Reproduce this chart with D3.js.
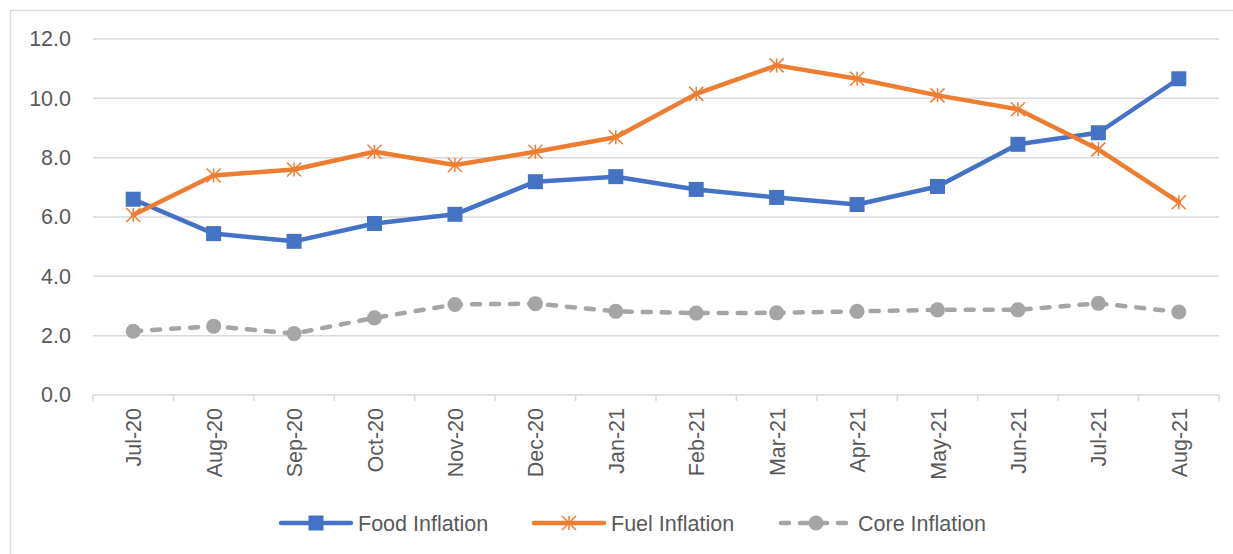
<!DOCTYPE html>
<html>
<head>
<meta charset="utf-8">
<script src="https://cdn.jsdelivr.net/npm/d3@7"></script>
<style>
  body { margin: 0; background: #fff; }
  text { font-family: "Liberation Sans", Arial, sans-serif; fill: #595959; }
</style>
</head>
<body>
<div class="main"></div>
<script>
// chart data
const months = ["Jul-20", "Aug-20", "Sep-20", "Oct-20", "Nov-20", "Dec-20", "Jan-21",
                "Feb-21", "Mar-21", "Apr-21", "May-21", "Jun-21", "Jul-21", "Aug-21"];
const foodInflation = [6.6, 5.44, 5.18, 5.78, 6.09, 7.19, 7.36, 6.93, 6.66, 6.42, 7.03, 8.45, 8.84, 10.66];
const fuelInflation = [6.07, 7.4, 7.6, 8.2, 7.75, 8.2, 8.69, 10.15, 11.11, 10.66, 10.1, 9.63, 8.28, 6.5];
const coreInflation = [2.15, 2.32, 2.07, 2.6, 3.05, 3.08, 2.82, 2.76, 2.77, 2.82, 2.87, 2.87, 3.09, 2.8];
const yTicks = [0, 2, 4, 6, 8, 10, 12];

const series = [
  { name: "Food Inflation", values: foodInflation, color: "#4472C4", marker: "square" },
  { name: "Fuel Inflation", values: fuelInflation, color: "#ED7D31", marker: "star" },
  { name: "Core Inflation", values: coreInflation, color: "#A5A5A5", marker: "circle", dashed: true }
];

// layout
const W = 1233, H = 554;
const plot = { left: 93, right: 1219, top: 39, bottom: 395 };
const fontSize = 21.5;

const svg = d3.select(".main").append("svg")
    .attr("width", W)
    .attr("height", H);

// outer chart border
svg.append("rect")
    .attr("x", 10.5).attr("y", 10.5)
    .attr("width", 1260).attr("height", 600)
    .attr("fill", "none")
    .attr("stroke", "#D9D9D9")
    .attr("stroke-width", 1.5);

const x = d3.scaleBand().domain(months).range([plot.left, plot.right]);
const y = d3.scaleLinear().domain([0, 12]).range([plot.bottom, plot.top]);

// horizontal gridlines
svg.append("g").selectAll("line").data(yTicks.filter(t => t > 0)).enter().append("line")
    .attr("x1", plot.left).attr("x2", plot.right)
    .attr("y1", d => y(d)).attr("y2", d => y(d))
    .attr("stroke", "#D9D9D9")
    .attr("stroke-width", 1.5);

// y axis labels
const yAxis = d3.axisLeft(y).tickValues(yTicks).tickSize(0).tickPadding(22)
    .tickFormat(d3.format(".1f"));
const yg = svg.append("g").attr("transform", "translate(" + plot.left + ",0)").call(yAxis);
yg.select(".domain").remove();
yg.selectAll("text").attr("font-size", fontSize).attr("font-family", null).attr("fill", "#595959");

// x axis line + ticks at category borders
const xg = svg.append("g").attr("transform", "translate(0," + plot.bottom + ")");
xg.append("line")
    .attr("x1", plot.left).attr("x2", plot.right)
    .attr("stroke", "#D9D9D9").attr("stroke-width", 1.5);
const borders = months.map(m => x(m)).concat([plot.right]);
xg.selectAll(".tk").data(borders).enter().append("line")
    .attr("class", "tk")
    .attr("x1", d => d).attr("x2", d => d)
    .attr("y1", 0).attr("y2", 6)
    .attr("stroke", "#D9D9D9").attr("stroke-width", 1.5);
xg.selectAll(".lbl").data(months).enter().append("text")
    .attr("class", "lbl")
    .attr("transform", d => "translate(" + (x(d) + x.bandwidth() / 2 + 8) + ",13) rotate(-90)")
    .attr("text-anchor", "end")
    .attr("font-size", fontSize)
    .text(d => d);

// lines
const line = d3.line()
    .x((d, i) => x(months[i]) + x.bandwidth() / 2)
    .y(d => y(d));

function drawMarker(g, type, color, cx, cy) {
  if (type === "square") {
    g.append("rect")
        .attr("x", cx - 7.5).attr("y", cy - 7.5)
        .attr("width", 15).attr("height", 15)
        .attr("fill", color);
  } else if (type === "circle") {
    g.append("circle")
        .attr("cx", cx).attr("cy", cy).attr("r", 7.5)
        .attr("fill", color);
  } else {
    const r = 7;
    const p = "M" + (cx - r) + "," + (cy - r) + "L" + (cx + r) + "," + (cy + r) +
              "M" + (cx - r) + "," + (cy + r) + "L" + (cx + r) + "," + (cy - r) +
              "M" + cx + "," + (cy - r) + "L" + cx + "," + (cy + r);
    g.append("path").attr("d", p)
        .attr("stroke", color).attr("stroke-width", 1.5).attr("fill", "none");
  }
}

series.forEach(s => {
  const g = svg.append("g");
  g.append("path")
      .datum(s.values)
      .attr("d", line)
      .attr("fill", "none")
      .attr("stroke", s.color)
      .attr("stroke-width", 4.5)
      .attr("stroke-linejoin", "round")
      .attr("stroke-linecap", "round")
      .attr("stroke-dasharray", s.dashed ? "8,11" : null);
  s.values.forEach((v, i) => {
    drawMarker(g, s.marker, s.color, x(months[i]) + x.bandwidth() / 2, y(v));
  });
});

// legend
const legendY = 523;
const legendX = [281, 534, 781];
series.forEach((s, i) => {
  const g = svg.append("g");
  const x0 = legendX[i];
  g.append("line")
      .attr("x1", x0).attr("x2", x0 + 70)
      .attr("y1", legendY).attr("y2", legendY)
      .attr("stroke", s.color)
      .attr("stroke-width", 4.5)
      .attr("stroke-linecap", "round")
      .attr("stroke-dasharray", s.dashed ? "8,11" : null);
  drawMarker(g, s.marker, s.color, x0 + 35, legendY);
  g.append("text")
      .attr("x", x0 + 77)
      .attr("y", legendY + 7.5)
      .attr("font-size", fontSize)
      .text(s.name);
});
</script>
</body>
</html>
